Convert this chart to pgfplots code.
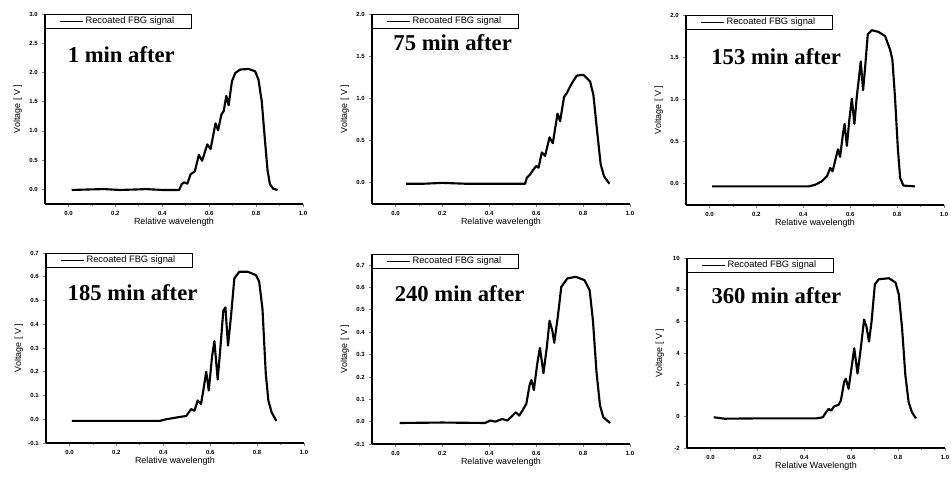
\documentclass[border=0pt]{standalone}
\usepackage{fontspec}
\setmainfont{Liberation Sans}
\newfontfamily\annfont{Liberation Serif}
\usepackage{pgfplots}
\pgfplotsset{compat=1.18}

% shared look of the six Origin-style panels
\pgfplotsset{
  fbg/.style={
    scale only axis, width=193.5pt, height=142.5pt,
    anchor=south west,
    axis x line*=bottom, axis y line*=left,
    axis line style={line width=0.8pt},
    xmin=-0.1, xmax=1.0,
    xtick={0,0.2,0.4,0.6,0.8,1.0},
    minor x tick num=1,
    tick align=outside, major tick length=2pt, minor tick length=1.2pt,
    tick style={line width=0.6pt},
    /pgf/number format/assume math mode=true,
    /pgf/number format/fixed, /pgf/number format/fixed zerofill,
    /pgf/number format/precision=1,
    ticklabel style={font=\fontsize{4.5}{5}\selectfont\bfseries},
    xlabel={Relative wavelength}, ylabel={Voltage [ V ]},
    label style={font=\fontsize{6.7}{7}\selectfont},
    xlabel style={at={(axis description cs:0.5,-0.097)}, anchor=center},
    ylabel style={at={(axis description cs:-0.105,0.5)}, anchor=center},
    legend style={at={(0,1)}, anchor=north west, draw=black, line width=0.6pt,
      font=\fontsize{7}{8}\selectfont, inner xsep=11pt, inner ysep=0.5pt,
      nodes={inner sep=1.5pt}},
    legend image code/.code={\draw[black, line width=0.6pt] (0pt,0pt) -- (17pt,0pt);},
    cycle list={{black, no markers}},
    every axis plot post/.append style={black, line width=1.6pt, line join=round},
  },
}
\tikzset{ann/.style={anchor=west, font=\annfont\bfseries\fontsize{17}{17}\selectfont}}

\begin{document}
\begin{tikzpicture}
\path[use as bounding box] (0,0) rectangle (713.25pt,359.25pt);

% 1 min after
\begin{axis}[fbg, at={(33.75pt,206.25pt)}, ymin=-0.25, ymax=3.0,
  ytick={0,0.5,1,1.5,2,2.5,3}]
\addplot coordinates {
 (0.014,-0.01) (0.10,0.00) (0.15,0.005) (0.22,-0.01) (0.30,0.00) (0.33,0.005)
 (0.40,-0.01) (0.472,-0.01) (0.483,0.09) (0.493,0.12) (0.507,0.10) (0.521,0.26)
 (0.539,0.31) (0.556,0.59) (0.570,0.49) (0.592,0.77) (0.606,0.69) (0.627,1.13)
 (0.638,1.01) (0.652,1.28) (0.662,1.34) (0.673,1.60) (0.683,1.44) (0.697,1.85)
 (0.711,1.99) (0.732,2.05) (0.768,2.06) (0.796,2.02) (0.810,1.88) (0.824,1.51)
 (0.838,0.83) (0.849,0.32) (0.859,0.09) (0.873,0.01) (0.892,-0.01)
};
\addlegendentry{Recoated FBG signal}
\node[ann] at (axis description cs:0.07,0.785) {1 min after};
\end{axis}

% 75 min after
\begin{axis}[fbg, at={(279pt,206.25pt)}, ymin=-0.25, ymax=2.0,
  ytick={0,0.5,1,1.5,2}]
\addplot coordinates {
 (0.045,-0.01) (0.12,-0.01) (0.20,0.00) (0.30,-0.01) (0.40,-0.01) (0.553,-0.01)
 (0.560,0.06) (0.574,0.10) (0.589,0.16) (0.600,0.20) (0.610,0.18) (0.624,0.36)
 (0.638,0.32) (0.657,0.54) (0.671,0.47) (0.691,0.82) (0.702,0.73) (0.719,1.02)
 (0.730,1.06) (0.752,1.18) (0.773,1.27) (0.801,1.28) (0.830,1.20) (0.844,1.04)
 (0.861,0.58) (0.875,0.22) (0.889,0.08) (0.912,-0.01)
};
\addlegendentry{Recoated FBG signal}
\node[ann] at (axis description cs:0.065,0.85) {75 min after};
\end{axis}

% 153 min after
\begin{axis}[fbg, at={(514.5pt,205.5pt)}, ymin=-0.25, ymax=2.0,
  ytick={0,0.5,1,1.5,2}]
\addplot coordinates {
 (0.011,-0.03) (0.15,-0.03) (0.30,-0.03) (0.423,-0.03) (0.451,-0.01) (0.479,0.03)
 (0.501,0.09) (0.515,0.19) (0.525,0.15) (0.539,0.31) (0.548,0.41) (0.557,0.32)
 (0.569,0.59) (0.576,0.71) (0.586,0.45) (0.596,0.75) (0.607,1.01) (0.618,0.71)
 (0.628,1.03) (0.638,1.27) (0.645,1.45) (0.655,1.11) (0.664,1.39) (0.675,1.77)
 (0.692,1.82) (0.721,1.80) (0.749,1.75) (0.770,1.59) (0.780,1.47) (0.791,1.03)
 (0.803,0.43) (0.813,0.07) (0.827,-0.02) (0.877,-0.03)
};
\addlegendentry{Recoated FBG signal}
\node[ann] at (axis description cs:0.08,0.78) {153 min after};
\end{axis}

% 185 min after
\begin{axis}[fbg, at={(34.5pt,27pt)}, ymin=-0.1, ymax=0.7,
  ytick={-0.1,0,0.1,0.2,0.3,0.4,0.5,0.6,0.7}]
\addplot coordinates {
 (0.010,-0.007) (0.20,-0.007) (0.385,-0.007) (0.413,0.0) (0.455,0.007) (0.498,0.014)
 (0.519,0.043) (0.533,0.036) (0.547,0.079) (0.561,0.064) (0.573,0.136) (0.583,0.20)
 (0.594,0.121) (0.608,0.264) (0.618,0.329) (0.632,0.167) (0.644,0.307) (0.656,0.457)
 (0.665,0.471) (0.676,0.31) (0.689,0.436) (0.703,0.593) (0.724,0.621) (0.760,0.621)
 (0.795,0.607) (0.809,0.579) (0.823,0.464) (0.837,0.193) (0.848,0.079) (0.862,0.029)
 (0.882,-0.007)
};
\addlegendentry{Recoated FBG signal}
\node[ann] at (axis description cs:0.066,0.79) {185 min after};
\end{axis}

% 240 min after
\begin{axis}[fbg, at={(279pt,26.25pt)}, ymin=-0.1, ymax=0.75,
  ytick={-0.1,0,0.1,0.2,0.3,0.4,0.5,0.6,0.7}]
\addplot coordinates {
 (0.018,-0.006) (0.20,-0.004) (0.382,-0.006) (0.404,0.005) (0.426,0.0) (0.455,0.012)
 (0.477,0.005) (0.499,0.027) (0.514,0.042) (0.528,0.027) (0.546,0.058) (0.558,0.08)
 (0.572,0.164) (0.580,0.186) (0.590,0.141) (0.604,0.255) (0.616,0.33) (0.631,0.217)
 (0.645,0.33) (0.657,0.452) (0.669,0.406) (0.677,0.353) (0.692,0.467) (0.707,0.603)
 (0.733,0.641) (0.769,0.648) (0.806,0.633) (0.828,0.588) (0.842,0.452) (0.857,0.224)
 (0.872,0.073) (0.886,0.02) (0.915,-0.006)
};
\addlegendentry{Recoated FBG signal}
\node[ann] at (axis description cs:0.07,0.79) {240 min after};
\end{axis}

% 360 min after
\begin{axis}[fbg, at={(515.25pt,23.25pt)}, ymin=-2, ymax=10,
  ytick={-2,0,2,4,6,8,10}, yticklabel style={/pgf/number format/precision=0},
  xlabel={Relative Wavelength}]
\addplot coordinates {
 (0.014,-0.06) (0.06,-0.15) (0.20,-0.13) (0.35,-0.13) (0.451,-0.13) (0.479,-0.06)
 (0.493,0.26) (0.504,0.47) (0.514,0.36) (0.528,0.64) (0.546,0.72) (0.556,1.0)
 (0.570,2.17) (0.577,2.38) (0.589,1.74) (0.603,3.23) (0.613,4.30) (0.627,2.70)
 (0.641,4.30) (0.655,6.11) (0.665,5.68) (0.676,4.72) (0.687,6.0) (0.701,8.34)
 (0.718,8.66) (0.761,8.72) (0.789,8.45) (0.803,7.70) (0.817,5.57) (0.831,2.60)
 (0.845,0.89) (0.859,0.26) (0.876,-0.13)
};
\addlegendentry{Recoated FBG signal}
\node[ann] at (axis description cs:0.077,0.80) {360 min after};
\end{axis}

\end{tikzpicture}
\end{document}
